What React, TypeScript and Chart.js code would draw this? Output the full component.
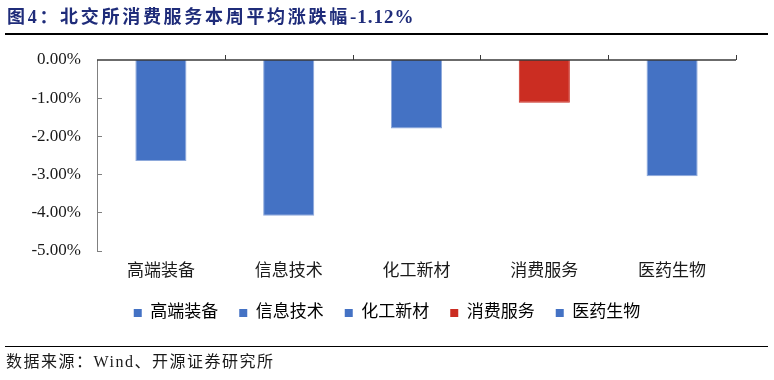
import { useEffect, useRef } from "react";
import { Chart, registerables } from "chart.js";

Chart.register(...registerables);

const categories = ["高端装备", "信息技术", "化工新材", "消费服务", "医药生物"];
const values = [-2.65, -4.09, -1.8, -1.12, -3.05];
const barColors = ["#4472C4", "#4472C4", "#4472C4", "#CB2D22", "#4472C4"];
const barBorders = ["#8EA9DB", "#8EA9DB", "#8EA9DB", "#CB2D22", "#8EA9DB"];
const yTickValues = [0, -1, -2, -3, -4, -5];
const titleMain = "图4：北交所消费服务本周平均涨跌幅";
const titleValue = "-1.12%";
const sourceText = "数据来源：Wind、开源证券研究所";

const FONT = "'Liberation Serif', 'Noto Sans CJK SC', serif";

const axisDecor = {
  id: "axisDecor",
  afterDatasetsDraw(chart: any) {
    const { ctx, chartArea, scales } = chart;
    const x = scales.x;
    const y = scales.y;
    ctx.save();
    ctx.strokeStyle = "#7f7f7f";
    ctx.lineWidth = 1;
    yTickValues.forEach((v) => {
      if (v === 0) return;
      const py = Math.round(y.getPixelForValue(v)) + 0.5;
      ctx.beginPath();
      ctx.moveTo(chartArea.left, py);
      ctx.lineTo(chartArea.left + 5, py);
      ctx.stroke();
    });
    const y0 = y.getPixelForValue(0);
    ctx.strokeStyle = "#3a3a3a";
    ctx.lineWidth = 1.5;
    ctx.beginPath();
    ctx.moveTo(chartArea.left, y0);
    ctx.lineTo(chartArea.right, y0);
    ctx.stroke();
    const spacing = x.getPixelForValue(1) - x.getPixelForValue(0);
    ctx.lineWidth = 1;
    for (let i = 0; i < categories.length; i++) {
      const px = Math.round(x.getPixelForValue(i) + spacing / 2) + 0.5;
      ctx.beginPath();
      ctx.moveTo(px, y0);
      ctx.lineTo(px, y0 - 5);
      ctx.stroke();
    }
    ctx.restore();
  },
};

export default function App() {
  const ref = useRef<HTMLCanvasElement | null>(null);

  useEffect(() => {
    document.body.style.margin = "0";
    if (!ref.current) return;
    const chart = new Chart(ref.current, {
      type: "bar",
      data: {
        labels: categories,
        datasets: [
          {
            data: values,
            backgroundColor: barColors,
            borderColor: barBorders,
            borderWidth: 1,
            barPercentage: 0.4,
            categoryPercentage: 1,
          },
        ],
      },
      plugins: [axisDecor],
      options: {
        animation: false,
        responsive: false,
        layout: { padding: { top: 60, left: 0, right: 0, bottom: 48.5 } },
        plugins: {
          tooltip: { enabled: false },
          title: { display: false },
          legend: {
            display: true,
            position: "bottom",
            onClick: () => {},
            labels: {
              boxWidth: 8,
              boxHeight: 8,
              padding: 21,
              color: "#1a1a1a",
              font: { family: FONT, size: 17 },
              generateLabels: () =>
                categories.map((c, i) => ({
                  text: c,
                  fillStyle: barColors[i],
                  strokeStyle: barColors[i],
                  lineWidth: 0,
                  hidden: false,
                  index: i,
                  datasetIndex: 0,
                })),
            },
          },
        },
        scales: {
          x: {
            position: "bottom",
            grid: { display: false, drawTicks: false },
            border: { display: false },
            ticks: {
              padding: 11,
              color: "#1a1a1a",
              font: { family: FONT, size: 17 },
              maxRotation: 0,
              autoSkip: false,
            },
            afterFit: (s: any) => {
              s.height = 33;
            },
          },
          y: {
            min: -5,
            max: 0,
            position: "left",
            grid: { display: false, drawTicks: false },
            border: { display: true, color: "#808080", width: 1 },
            ticks: {
              stepSize: 1,
              padding: 16,
              color: "#1a1a1a",
              font: { family: FONT, size: 17 },
              callback: (v: any) => Number(v).toFixed(2) + "%",
            },
            afterFit: (s: any) => {
              s.width = 97;
            },
          },
          y2: {
            position: "right",
            display: true,
            grid: { display: false, drawTicks: false },
            border: { display: false },
            ticks: { display: false },
            afterFit: (s: any) => {
              s.width = 38;
            },
          },
        },
      },
    });
    return () => chart.destroy();
  }, []);

  return (
    <div
      style={{
        position: "fixed",
        left: 0,
        top: 0,
        width: 774,
        height: 380,
        background: "#fff",
        overflow: "hidden",
      }}
    >
      <canvas
        ref={ref}
        width={774}
        height={380}
        style={{ position: "absolute", left: 0, top: 0, width: 774, height: 380 }}
      />
      <div
        style={{
          position: "absolute",
          left: 7,
          top: 4,
          fontFamily: FONT,
          fontWeight: "bold",
          fontSize: 18,
          lineHeight: "26px",
          color: "#1f2c7a",
          whiteSpace: "nowrap",
        }}
      >
        <span style={{ letterSpacing: "2.7px" }}>{titleMain}</span>
        <span style={{ letterSpacing: "1px", fontSize: 19 }}>{titleValue}</span>
      </div>
      <div
        style={{
          position: "absolute",
          left: 5,
          top: 33,
          width: 763,
          height: 1.5,
          background: "#000",
        }}
      />
      <div
        style={{
          position: "absolute",
          left: 5,
          top: 345.5,
          width: 763,
          height: 1.5,
          background: "#000",
        }}
      />
      <div
        style={{
          position: "absolute",
          left: 6,
          top: 350,
          fontFamily: FONT,
          fontSize: 16,
          letterSpacing: "1.5px",
          lineHeight: "24px",
          color: "#1a1a1a",
          whiteSpace: "nowrap",
        }}
      >
        {sourceText}
      </div>
    </div>
  );
}
